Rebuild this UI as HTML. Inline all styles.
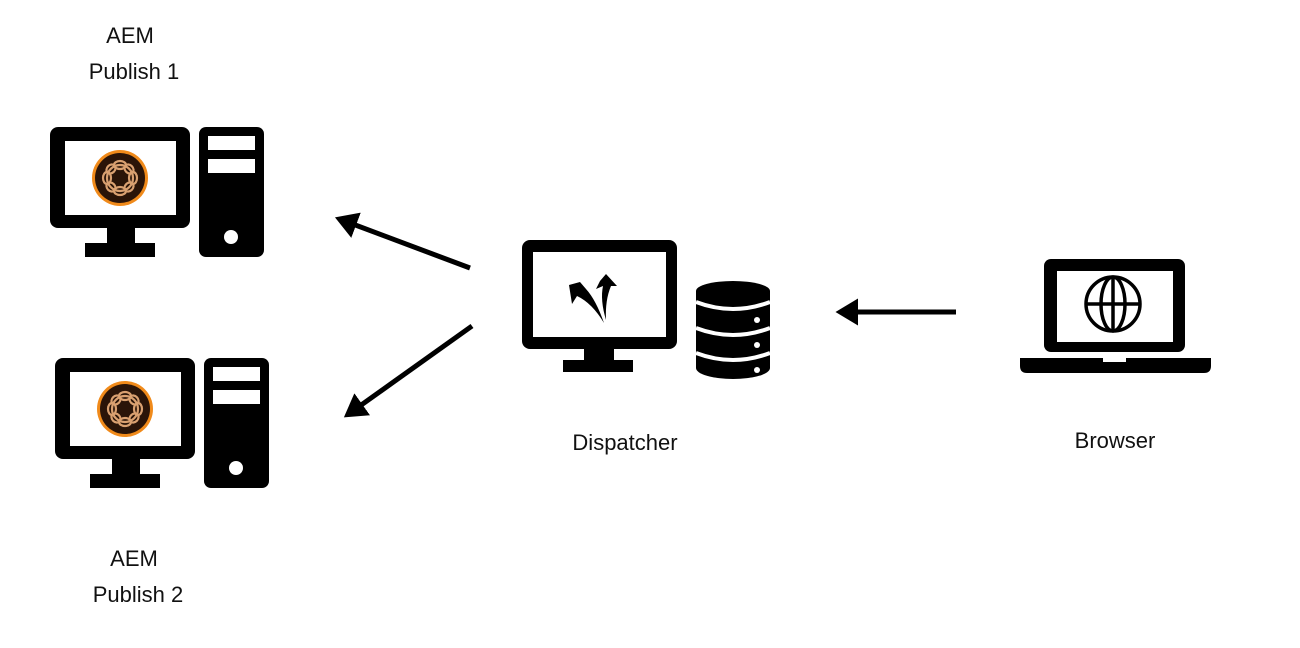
<!DOCTYPE html>
<html><head><meta charset="utf-8"><style>
html,body{margin:0;padding:0;background:#fff;}
svg{display:block}
text{font-family:"Liberation Sans",sans-serif;font-size:22px;fill:#111;text-anchor:middle}
</style></head><body>
<svg width="1300" height="648" viewBox="0 0 1300 648">
<defs>
<marker id="ah" markerWidth="6" markerHeight="6" refX="3" refY="3" orient="auto" markerUnits="strokeWidth">
<path d="M0,0.3 L4.5,3 L0,5.7 z" fill="#000"/>
</marker>
<g id="logo">
<circle r="28" fill="#f08a1a"/>
<circle r="25" fill="#2a1408"/>
<g fill="none" stroke="#d9a070" stroke-width="2.2">
<circle r="13"/>
<ellipse cx="0" cy="-13" rx="6" ry="4"/><ellipse cx="0" cy="13" rx="6" ry="4"/>
<ellipse cx="-13" cy="0" rx="4" ry="6"/><ellipse cx="13" cy="0" rx="4" ry="6"/>
<ellipse cx="9" cy="-9" rx="5" ry="4" transform="rotate(45 9 -9)"/>
<ellipse cx="-9" cy="9" rx="5" ry="4" transform="rotate(45 -9 9)"/>
<ellipse cx="-9" cy="-9" rx="5" ry="4" transform="rotate(-45 -9 -9)"/>
<ellipse cx="9" cy="9" rx="5" ry="4" transform="rotate(-45 9 9)"/>
</g>
</g>
<g id="pc">
<rect x="0" y="0" width="140" height="101" rx="8" fill="#000"/>
<rect x="15" y="14" width="111" height="74" fill="#fff"/>
<rect x="57" y="100" width="28" height="17" fill="#000"/>
<rect x="35" y="116" width="70" height="14" fill="#000"/>
<rect x="149" y="0" width="65" height="130" rx="7" fill="#000"/>
<rect x="158" y="9" width="47" height="14" fill="#fff"/>
<rect x="158" y="32" width="47" height="14" fill="#fff"/>
<circle cx="181" cy="110" r="7" fill="#fff"/>
<use href="#logo" x="70" y="51"/>
</g>
</defs>

<text x="130" y="43">AEM</text>
<text x="134" y="79">Publish 1</text>
<use href="#pc" x="50" y="127"/>

<use href="#pc" x="55" y="358"/>
<text x="134" y="566">AEM</text>
<text x="138" y="602">Publish 2</text>

<!-- Dispatcher -->
<rect x="522" y="240" width="155" height="109" rx="8" fill="#000"/>
<rect x="533" y="252" width="133" height="85" fill="#fff"/>
<rect x="584" y="348" width="30" height="14" fill="#000"/>
<rect x="563" y="360" width="70" height="12" fill="#000"/>
<path d="M569,285 L580,282 L586,289 Q596,300 604,323 Q592,303 577,296 L572,304 Z" fill="#000"/>
<path d="M600,281 L606,274 L617,286 L611,286 Q605,300 606,320 Q600,300 603,286 L596,289 Z" fill="#000"/>
<rect x="696" y="291" width="74" height="77" fill="#000"/>
<ellipse cx="733" cy="291" rx="37" ry="10" fill="#000"/>
<ellipse cx="733" cy="368" rx="37" ry="11" fill="#000"/>
<path d="M696,302 Q733,316 770,302" fill="none" stroke="#fff" stroke-width="4"/>
<path d="M696,328 Q733,342 770,328" fill="none" stroke="#fff" stroke-width="4"/>
<path d="M696,353 Q733,367 770,353" fill="none" stroke="#fff" stroke-width="4"/>
<circle cx="757" cy="320" r="3" fill="#fff"/>
<circle cx="757" cy="345" r="3" fill="#fff"/>
<circle cx="757" cy="370" r="3" fill="#fff"/>
<text x="625" y="450">Dispatcher</text>

<!-- Browser -->
<rect x="1044" y="259" width="141" height="93" rx="7" fill="#000"/>
<rect x="1057" y="271" width="116" height="71" fill="#fff"/>
<path d="M1020,358 L1211,358 L1211,366 Q1211,373 1204,373 L1027,373 Q1020,373 1020,366 Z" fill="#000"/>
<rect x="1103" y="358" width="23" height="4" fill="#fff"/>
<g fill="none" stroke="#000" stroke-width="3.5">
<circle cx="1113" cy="304" r="27"/>
<ellipse cx="1113" cy="304" rx="12" ry="27"/>
<line x1="1113" y1="277" x2="1113" y2="331"/>
<line x1="1086" y1="304" x2="1140" y2="304"/>
</g>
<text x="1115" y="448">Browser</text>

<!-- arrows -->
<g stroke="#000" stroke-width="5" marker-end="url(#ah)">
<line x1="470" y1="268" x2="342" y2="220"/>
<line x1="472" y1="326" x2="350" y2="413"/>
<line x1="956" y1="312" x2="843" y2="312"/>
</g>
</svg>
</body></html>
